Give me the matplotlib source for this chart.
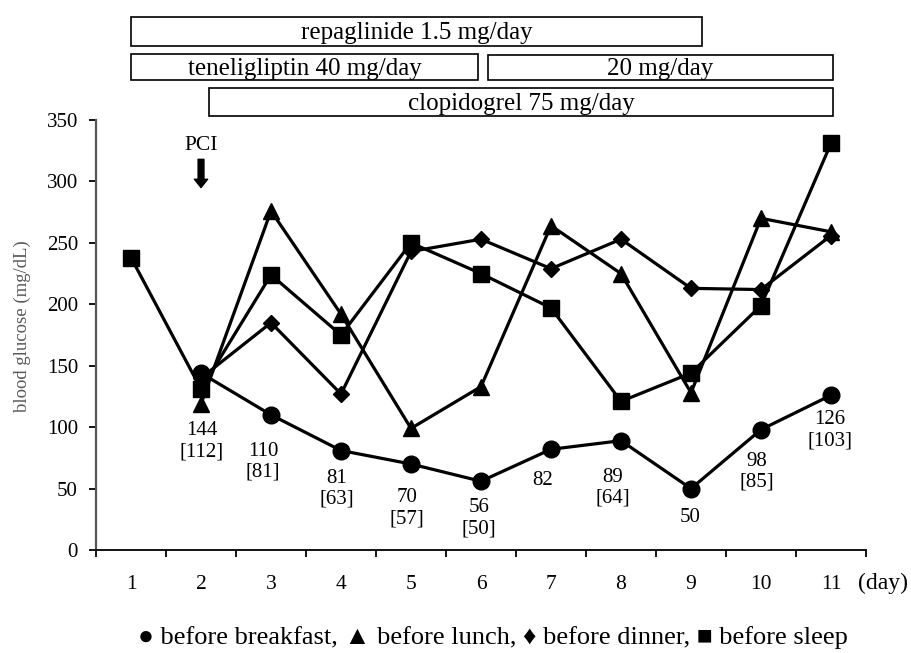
import numpy as np
import matplotlib
matplotlib.use("Agg")
import matplotlib.pyplot as plt
from matplotlib.patches import Rectangle
from matplotlib.transforms import blended_transform_factory

plt.rcParams['font.family'] = ['Liberation Serif', 'DejaVu Sans']

# ---------------- data ----------------
days = [1, 2, 3, 4, 5, 6, 7, 8, 9, 10, 11]
nan = np.nan
before_breakfast = [nan, 144, 110, 81, 70, 56, 82, 89, 50, 98, 126]
before_lunch     = [nan, 119, 276, 192, 99, 133, 264, 225, 128, 270, 259]
before_dinner    = [nan, 140, 185, 127, 243, 253, 229, 253, 213, 212, 256]
before_sleep     = [238, 131, 224, 175, 250, 225, 197, 121, 144, 199, 331]

bracket_values = [None, 112, 81, 63, 57, 50, None, 64, None, 85, 103]

drug_labels = ["repaglinide 1.5 mg/day", "teneligliptin 40 mg/day",
               "20 mg/day", "clopidogrel 75 mg/day"]
drug_start = [1.0, 1.0, 6.1, 2.11]
drug_end = [9.16, 5.96, 11.03, 11.03]

y_ticks = [0, 50, 100, 150, 200, 250, 300, 350]
pci_day = 2

# ---------------- figure ----------------
fig = plt.figure(figsize=(9.11, 6.53), dpi=100)
ax = fig.add_axes([0.1054, 0.1577, 0.8452, 0.6585])

series = [
    (before_lunch, '^', 12, 2),
    (before_dinner, 'D', 8.5, 3),
    (before_sleep, 's', 11.5, 4),
    (before_breakfast, 'o', 12, 5),
]
x = np.array(days, dtype=float)
for vals, mk, ms, z in series:
    v = np.array(vals, dtype=float)
    m = ~np.isnan(v)
    ax.plot(x[m], v[m], color='black', lw=2.3, marker=mk, ms=ms,
            markerfacecolor='black', markeredgecolor='black', zorder=z,
            clip_on=False)

# labels under breakfast points (offsets in pixels)
label_dx_px = [0, 1, -8, -4, -4, -2, -8, -8, -1, -4, -1]
label_dy_px = [0, 48, 27, 18, 24, 17, 22, 27, 19, 22, 15]
for i, (d, v, b) in enumerate(zip(days, before_breakfast, bracket_values)):
    if np.isnan(v):
        continue
    txt = f"{v:g}" if b is None else f"{v:g}\n[{b}]"
    ax.annotate(txt, xy=(d, v), xytext=(label_dx_px[i] * 0.72, -label_dy_px[i] * 0.72),
                textcoords='offset points', ha='center', va='top',
                fontsize=15, linespacing=1.15, zorder=6)

# axes formatting
ax.set_xlim(0.5, 11.5)
ax.set_ylim(0, 350)
ax.set_yticks(y_ticks)
ax.set_yticklabels([str(t) for t in y_ticks], fontsize=15)
ax.set_xticks(days)
ax.set_xticklabels([str(d) for d in days], fontsize=15.5)
ax.set_xticks(np.arange(0.5, 12, 1.0), minor=True)
ax.tick_params(axis='x', which='major', length=0, pad=18)
ax.tick_params(axis='x', which='minor', length=5, width=1.3, direction='out')
ax.tick_params(axis='y', length=5, width=1.3, direction='out', pad=8)
for s in ['top', 'right']:
    ax.spines[s].set_visible(False)
ax.spines['left'].set_linewidth(1.6)
ax.spines['bottom'].set_linewidth(1.4)
ax.spines['left'].set_color('#555555')
ax.spines['bottom'].set_color('#111111')

# PCI annotation
ax.text(pci_day, 329, "PCI", ha='center', va='center', fontsize=15.5)
ax.annotate("", xy=(pci_day, 295), xytext=(pci_day, 318),
            arrowprops=dict(arrowstyle='simple,head_width=0.95,head_length=0.6,tail_width=0.42',
                            color='black', shrinkA=0, shrinkB=0, mutation_scale=10),
            annotation_clip=False)

# drug boxes
trans = blended_transform_factory(ax.transData, fig.transFigure)
box_rows = [(0.9296, 0.974), (0.877, 0.917), (0.877, 0.916), (0.822, 0.865)]
for lab, s, e, (y0, y1) in zip(drug_labels, drug_start, drug_end, box_rows):
    r = Rectangle((s, y0), e - s, y1 - y0, transform=trans, fill=False,
                  edgecolor='black', lw=1.2, clip_on=False)
    ax.add_patch(r)
    ax.text((s + e) / 2, (y0 + y1) / 2 - 0.002, lab, transform=trans, ha='center',
            va='center', fontsize=18)

# axis titles
fig.text(0.024, 0.5, "blood glucose (mg/dL)", rotation=90, ha='center',
         va='center', fontsize=13.5, color='#595959')
fig.text(883 / 911, (653 - 583) / 653, "(day)", ha='center', va='center', fontsize=17)

fig.text(0.541, 0.024,
         "\u25cf before breakfast, \u25b2 before lunch, \u2666 before dinner, \u25a0 before sleep",
         ha='center', va='center', fontsize=19)

fig.savefig("out.png", dpi=100)
